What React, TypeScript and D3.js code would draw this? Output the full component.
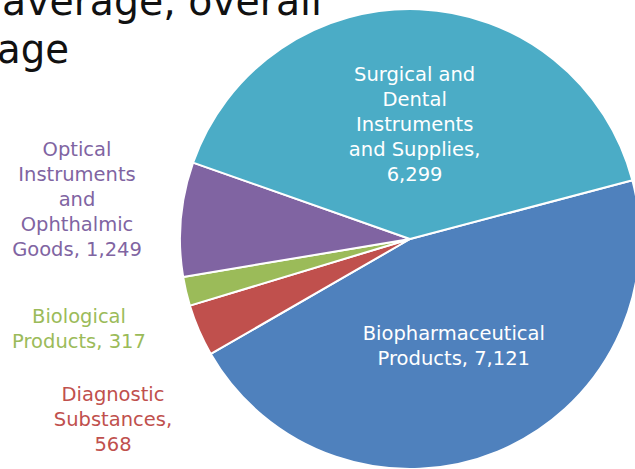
import { useEffect, useRef } from 'react'
import * as d3 from 'd3'

const categories = [
  'Biopharmaceutical Products',
  'Diagnostic Substances',
  'Biological Products',
  'Optical Instruments and Ophthalmic Goods',
  'Surgical and Dental Instruments and Supplies'
]
const values = [7121, 568, 317, 1249, 6299]
const colors = ['#4F81BD', '#C0504D', '#9BBB59', '#8064A2', '#4BACC6']

// label lines as Excel wrapped them
const labelLines = [
  ['Biopharmaceutical', 'Products, 7,121'],
  ['Diagnostic', 'Substances,', '568'],
  ['Biological', 'Products, 317'],
  ['Optical', 'Instruments', 'and', 'Ophthalmic', 'Goods, 1,249'],
  ['Surgical and', 'Dental', 'Instruments', 'and Supplies,', '6,299']
]
const titleLines = ['average, overall', 'age']

export default function App() {
  const svgRef = useRef<SVGSVGElement>(null)
  const width = 635
  const height = 469

  useEffect(() => {
    if (!svgRef.current) return
    const svg = d3.select(svgRef.current)
    svg.selectAll('*').remove()

    const cx = 410
    const cy = 239
    const radius = 230
    const lineH = 25

    const data = categories.map((c, i) => ({ name: c, value: values[i], color: colors[i], lines: labelLines[i] }))
    type Datum = typeof data[0]

    const startDeg = 75.2
    const pie = d3.pie<Datum>()
      .value(d => d.value)
      .sort(null)
      .startAngle(startDeg * Math.PI / 180)
      .endAngle((startDeg + 360) * Math.PI / 180)

    const arc = d3.arc<d3.PieArcDatum<Datum>>().innerRadius(0).outerRadius(radius)
    const labelArc = d3.arc<d3.PieArcDatum<Datum>>().innerRadius(radius * 0.5).outerRadius(radius * 0.5)

    // title (cropped in the source)
    svg.append('g')
      .selectAll('text')
      .data(titleLines)
      .enter()
      .append('text')
      .attr('x', (d, i) => (i === 0 ? 2 : -3))
      .attr('y', (d, i) => 15 + i * 48)
      .attr('font-family', 'DejaVu Sans, sans-serif')
      .attr('font-size', 40)
      .attr('fill', '#111')
      .attr('textLength', (d, i) => (i === 0 ? 320 : 72))
      .attr('lengthAdjust', 'spacingAndGlyphs')
      .text(d => d)

    const g = svg.append('g').attr('transform', `translate(${cx},${cy})`)
    const arcs = pie(data)

    g.selectAll('path')
      .data(arcs)
      .enter()
      .append('path')
      .attr('d', arc)
      .attr('fill', d => d.data.color)
      .attr('stroke', '#fff')
      .attr('stroke-width', 2)
      .attr('stroke-linejoin', 'round')

    // outside labels sit to the left of the pie, centred on these points
    const outside: Record<string, [number, number]> = {
      'Diagnostic Substances': [113, 419],
      'Biological Products': [79, 328],
      'Optical Instruments and Ophthalmic Goods': [77, 199]
    }

    arcs.forEach(a => {
      const pos = outside[a.data.name]
      let x: number
      let y: number
      let fill: string
      if (pos) {
        x = pos[0]
        y = pos[1]
        fill = a.data.color
      } else {
        const c = labelArc.centroid(a)
        x = c[0] + cx
        y = c[1] + cy
        fill = '#fff'
      }
      const n = a.data.lines.length
      const t = svg.append('text')
        .attr('text-anchor', 'middle')
        .attr('font-family', 'DejaVu Sans, sans-serif')
        .attr('font-size', 19.5)
        .attr('fill', fill)
      a.data.lines.forEach((line, i) => {
        t.append('tspan')
          .attr('x', x)
          .attr('y', y + (i - (n - 1) / 2) * lineH + 7)
          .text(line)
      })
    })
  }, [])

  return (
    <svg
      ref={svgRef}
      width={width}
      height={height}
      style={{ position: 'absolute', left: 0, top: 0, background: '#fff' }}
    />
  )
}
